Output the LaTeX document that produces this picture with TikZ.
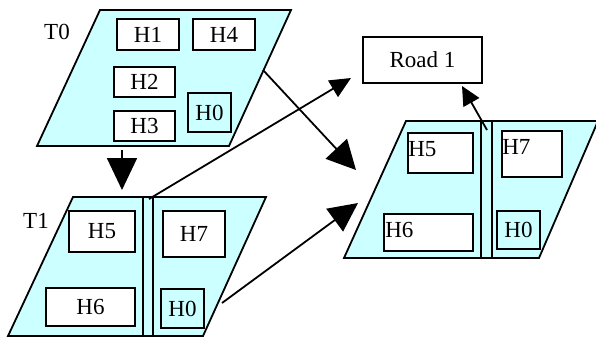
\documentclass[tikz,border=0pt]{standalone}
\usepackage{fontspec}
\setmainfont{Liberation Serif}
\usetikzlibrary{arrows.meta}
\definecolor{panel}{HTML}{CCFFFF}
\begin{document}
\begin{tikzpicture}[x=1pt,y=-1pt,
  panelshape/.style={draw=black, fill=panel, line width=1.8pt, line join=miter},
  hbox/.style={draw=black, fill=white, line width=1.8pt, inner sep=0pt, font=\fontsize{23}{25}\selectfont},
  cbox/.style={hbox, fill=panel},
  txt/.style={inner sep=0pt, font=\fontsize{23}{25}\selectfont},
  road/.style={line width=1.8pt},
  conn/.style={line width=1.8pt}
]
\useasboundingbox (0,0) rectangle (596,338);

% ---------- T0 ----------
\coordinate (t0a) at (100,10);
\coordinate (t0b) at (291,10);
\coordinate (t0c) at (229,146);
\coordinate (t0d) at (37,146);
\draw[panelshape] (t0a) -- (t0b) -- (t0c) -- (t0d) -- cycle;
\node[txt] (lt0) at (57,32) {T0};
\node[hbox, minimum width=62pt, minimum height=31pt] (a1) at (148,34.5) {H1};
\node[hbox, minimum width=62pt, minimum height=31pt] (a4) at (224,34.5) {H4};
\node[hbox, minimum width=61pt, minimum height=30pt] (a2) at (144.5,82) {H2};
\node[hbox, minimum width=61pt, minimum height=30pt] (a3) at (144.5,126) {H3};
\node[cbox, minimum width=43pt, minimum height=39pt] (a0) at (209.5,112.5) {H0};

% ---------- T1 ----------
\coordinate (t1a) at (73,197);
\coordinate (t1b) at (266,197);
\coordinate (t1c) at (203,336);
\coordinate (t1d) at (8,336);
\draw[panelshape] (t1a) -- (t1b) -- (t1c) -- (t1d) -- cycle;
\coordinate (r1at) at (143,197);
\coordinate (r1ab) at (143,336);
\coordinate (r1bt) at (153,197);
\coordinate (r1bb) at (153,336);
\draw[road] (r1at) -- (r1ab);
\draw[road] (r1bt) -- (r1bb);
\node[txt] (lt1) at (36,221) {T1};
\node[hbox, minimum width=66pt, minimum height=41pt] (b5) at (102,231.5) {H5};
\node[hbox, minimum width=62pt, minimum height=46pt] (b7) at (194,234) {H7};
\node[hbox, minimum width=89pt, minimum height=38pt] (b6) at (90.5,307) {H6};
\node[cbox, minimum width=43pt, minimum height=39pt] (b0) at (182.5,308.5) {H0};

% ---------- Result ----------
\coordinate (t2a) at (406,121);
\coordinate (t2b) at (598,121);
\coordinate (t2c) at (539,258);
\coordinate (t2d) at (344,258);
\draw[panelshape] (t2a) -- (t2b) -- (t2c) -- (t2d) -- cycle;
\coordinate (r2at) at (481,121);
\coordinate (r2ab) at (481,258);
\coordinate (r2bt) at (492,121);
\coordinate (r2bb) at (492,258);
\draw[road] (r2at) -- (r2ab);
\draw[road] (r2bt) -- (r2bb);
\node[hbox, minimum width=65pt, minimum height=40pt] (c5) at (440.5,153) {};
\node[txt, anchor=west] (c5t) at ([xshift=1pt,yshift=4pt]c5.west) {H5};
\node[hbox, minimum width=60pt, minimum height=46pt] (c7) at (532,154) {};
\node[txt, anchor=west] (c7t) at ([xshift=1pt,yshift=7pt]c7.west) {H7};
\node[hbox, minimum width=89pt, minimum height=37pt] (c6) at (428.5,232.5) {};
\node[txt, anchor=west] (c6t) at ([xshift=2pt,yshift=3pt]c6.west) {H6};
\node[cbox, minimum width=43pt, minimum height=38pt] (c0) at (518.5,230) {H0};

% ---------- Road 1 ----------
\node[hbox, minimum width=119pt, minimum height=46pt] (road1) at (422.5,60) {Road 1};

% ---------- connectors ----------
\coordinate (s1) at (122,150);
\coordinate (e1) at (122,190);
\draw[conn, -{Triangle[length=32pt,width=30pt]}] (s1) -- (e1);

\coordinate (s2) at (263,70);
\coordinate (e2) at (356,170);
\draw[conn, -{Triangle[length=29pt,width=29pt]}] (s2) -- (e2);

\coordinate (s3) at (149,199);
\coordinate (e3) at (351,78);
\draw[conn, -{Triangle[length=21pt,width=19pt]}] (s3) -- (e3);

\coordinate (s4) at (222,303);
\coordinate (e4) at (358,203);
\draw[conn, -{Triangle[length=29pt,width=28pt]}] (s4) -- (e4);

\coordinate (s5) at (487,130);
\coordinate (e5) at (462,86);
\draw[conn, -{Triangle[length=19pt,width=18pt]}] (s5) -- (e5);
\end{tikzpicture}
\end{document}
